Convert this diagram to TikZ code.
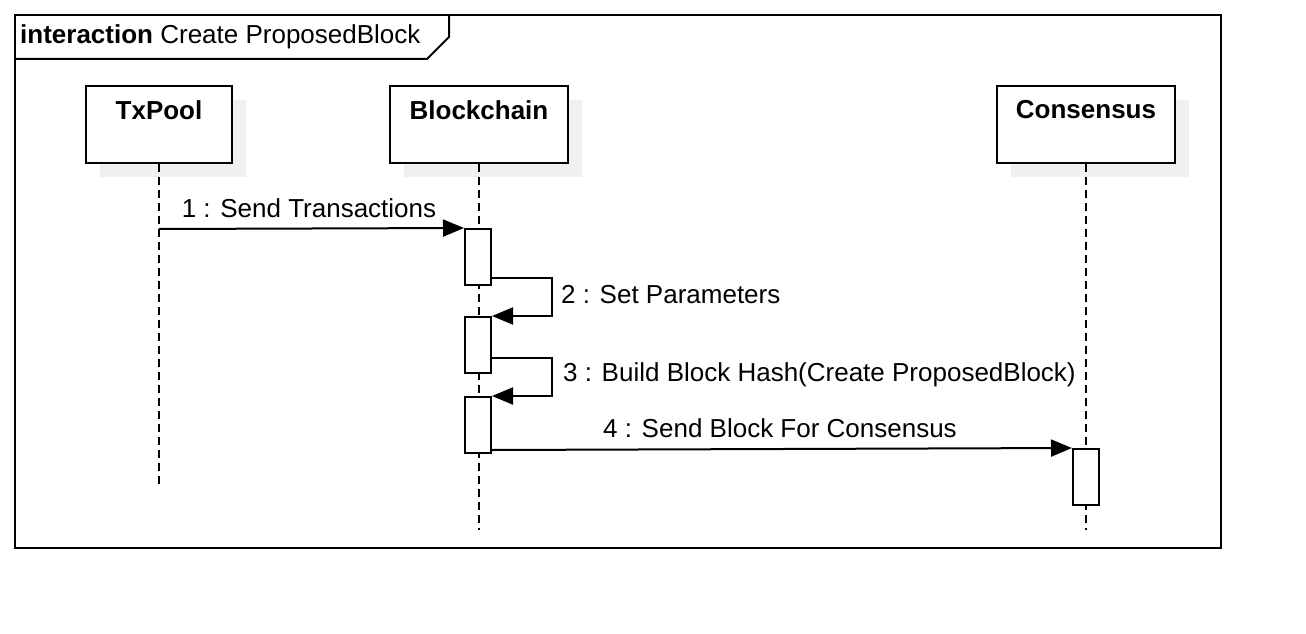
\documentclass[tikz,border=0pt]{standalone}
\usepackage{fontspec}
\setmainfont{Liberation Sans}
\usetikzlibrary{arrows.meta}
\begin{document}
\begin{tikzpicture}[x=1pt,y=-1pt,
  lbl/.style={font=\fontsize{26}{31}\selectfont, inner sep=0pt},
  lbox/.style={draw, line width=2pt, fill=white, minimum height=77pt, inner sep=0pt},
  shadowbox/.style={fill=black!6, draw=none},
  act/.style={draw, line width=2pt, fill=white, minimum width=26pt, minimum height=56pt, inner sep=0pt},
  life/.style={line width=2pt, dash pattern=on 8pt off 5pt},
  msg/.style={line width=2pt, -{Triangle[length=21pt,width=17pt]}}]
\useasboundingbox[fill=white] (0,0) rectangle (1306,634);
% frame
\draw[line width=2pt] (15,15) rectangle (1221,548);
\draw[line width=2pt] (15,59) -- (427,59) -- (449,37) -- (449,15);
\node[lbl, anchor=west] (title) at (20,37) {\textbf{interaction} Create ProposedBlock};
% shadows
\fill[shadowbox] (100,100) rectangle (246,177);
\fill[shadowbox] (404,100) rectangle (582,177);
\fill[shadowbox] (1011,100) rectangle (1189,177);
% lifeline heads
\node[lbox, minimum width=146pt] (txpool) at (159,124.5) {};
\node[lbox, minimum width=178pt] (chain) at (479,124.5) {};
\node[lbox, minimum width=178pt] (cons) at (1086,124.5) {};
\node[lbl] (txpoolt) at (159,110) {\textbf{TxPool}};
\node[lbl] (chaint) at (479,110) {\textbf{Blockchain}};
\node[lbl] (const) at (1086,110) {\textbf{Consensus}};
% lifelines
\coordinate (txend) at (159,484);
\coordinate (chainend) at (479,530);
\coordinate (consend) at (1086,530);
\draw[life] (txpool.south) -- (txend);
\draw[life] (chain.south) -- (chainend);
\draw[life] (cons.south) -- (consend);
% activations
\node[act] (a1) at (478,257) {};
\node[act] (a2) at (478,345) {};
\node[act] (a3) at (478,425) {};
\node[act] (c1) at (1086,477) {};
% messages
\coordinate (m1s) at (159,229);
\draw[msg] (m1s) -- (a1.north west);
\node[lbl] (l1) at (309,208) {1 : Send Transactions};
\draw[msg] ([yshift=8pt]a1.south east) -- ++(60,0) |- (a2.north east);
\node[lbl, anchor=west] (l2) at (561,295) {2 : Set Parameters};
\draw[msg] ([yshift=16pt]a2.south east) -- ++(60,0) |- (a3.north east);
\node[lbl, anchor=west] (l3) at (563,375) {3 : Build Block Hash(Create ProposedBlock)};
\draw[msg] ([yshift=4pt]a3.south east) -- (c1.north west);
\node[lbl] (l4) at (780,428) {4 : Send Block For Consensus};
\end{tikzpicture}
\end{document}
